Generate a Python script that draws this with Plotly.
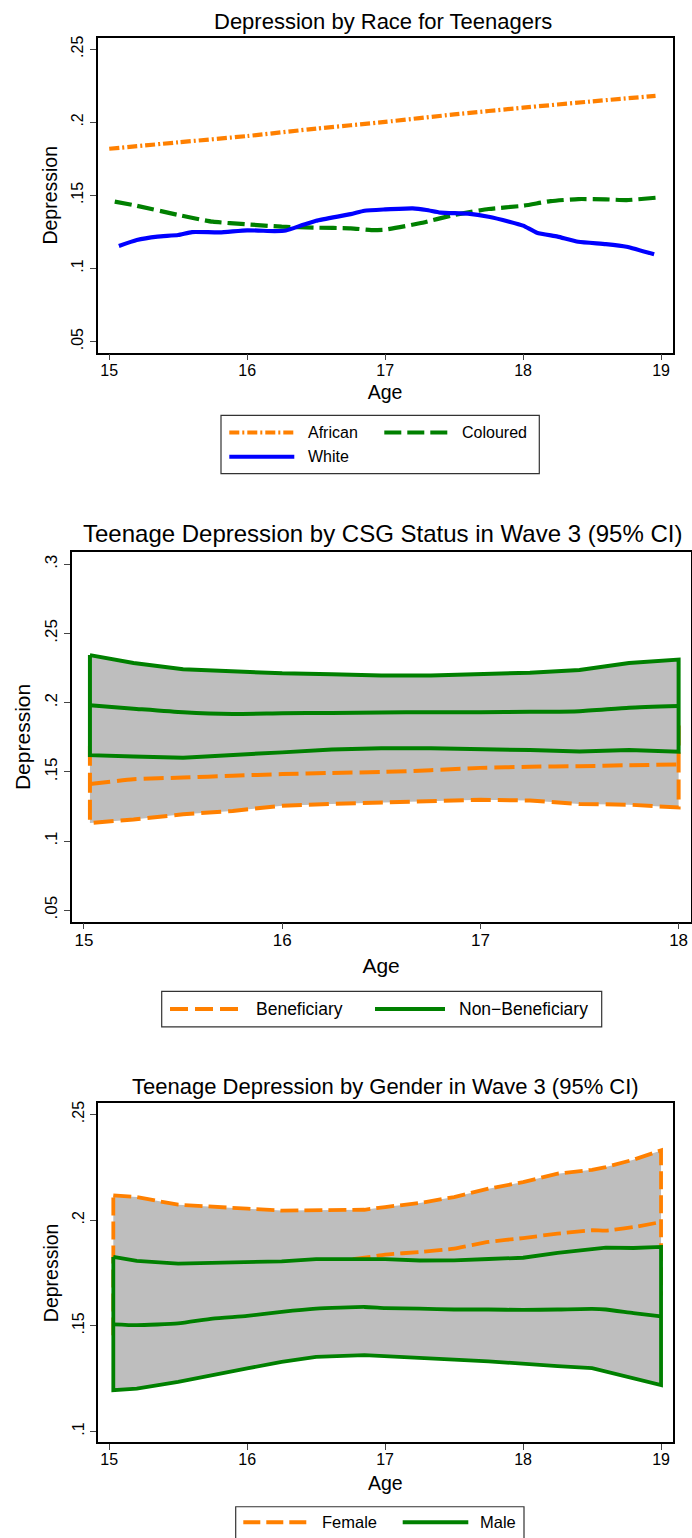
import plotly.graph_objects as go

# ---------------- data ----------------
# Panel 1: Depression by Race for Teenagers
african_age = [15.0, 15.5, 16.0, 16.5, 17.0, 17.5, 18.0, 18.5, 18.96]
african = [0.1819, 0.1863, 0.1906, 0.1957, 0.2003, 0.2054, 0.2100, 0.2143, 0.2181]

coloured_age = [15.04, 15.2, 15.5, 15.75, 16.0, 16.25, 16.5, 16.75, 16.9, 17.0, 17.25,
                17.5, 17.75, 18.0, 18.2, 18.4, 18.6, 18.75, 18.96]
coloured = [0.1457, 0.1429, 0.1366, 0.1320, 0.1302, 0.1286, 0.1279, 0.1275, 0.1263, 0.1266,
            0.1309, 0.1366, 0.1407, 0.1429, 0.1461, 0.1475, 0.1473, 0.1468, 0.1484]

white_age = [15.07, 15.2, 15.35, 15.5, 15.6, 15.8, 16.0, 16.2, 16.28, 16.4, 16.5, 16.75,
             16.85, 17.0, 17.2, 17.3, 17.4, 17.6, 17.75, 17.9, 18.0, 18.1, 18.25, 18.4,
             18.6, 18.75, 18.95]
white = [0.1154, 0.1195, 0.1218, 0.1229, 0.1249, 0.1247, 0.1261, 0.1256, 0.1260, 0.1297,
         0.1327, 0.1372, 0.1395, 0.1404, 0.1411, 0.1400, 0.1382, 0.1375, 0.1354, 0.1320,
         0.1293, 0.1245, 0.1218, 0.1183, 0.1167, 0.1149, 0.1097]

# Panel 2: Teenage Depression by CSG Status in Wave 3 (95% CI)
csg_age = [15.03, 15.25, 15.5, 15.75, 16.0, 16.25, 16.5, 16.75, 17.0, 17.25, 17.5, 17.75, 18.0]
ben_mean = [0.1412, 0.1447, 0.1459, 0.1472, 0.1484, 0.1492, 0.1499, 0.1512, 0.1529, 0.1537,
            0.1541, 0.1548, 0.1554]
ben_lower = [0.1131, 0.1156, 0.1193, 0.1218, 0.1255, 0.1268, 0.1280, 0.1290, 0.1298, 0.1293,
             0.1268, 0.1263, 0.1243]
ben_upper = [0.1693, 0.1738, 0.1725, 0.1726, 0.1713, 0.1716, 0.1718, 0.1734, 0.1760, 0.1781,
             0.1814, 0.1833, 0.1865]
nonben_mean = [0.1981, 0.1957, 0.1931, 0.1919, 0.1924, 0.1926, 0.1929, 0.1931, 0.1931, 0.1934,
               0.1939, 0.1964, 0.1976]
nonben_lower = [0.1621, 0.1611, 0.1603, 0.1621, 0.1641, 0.1661, 0.1670, 0.1670, 0.1666, 0.1658,
                0.1648, 0.1658, 0.1646]
nonben_upper = [0.2344, 0.2287, 0.2242, 0.2225, 0.2212, 0.2205, 0.2197, 0.2197, 0.2205, 0.2217,
                0.2237, 0.2287, 0.2312]

# Panel 3: Teenage Depression by Gender in Wave 3 (95% CI)
gender_age = [15.03, 15.2, 15.5, 15.75, 16.0, 16.25, 16.5, 16.85, 17.0, 17.25, 17.5, 17.75,
              18.0, 18.25, 18.5, 18.6, 18.8, 19.0]
female_upper = [0.2117, 0.2109, 0.2073, 0.2062, 0.2054, 0.2045, 0.2045, 0.2049, 0.2062, 0.2081,
                0.2109, 0.2149, 0.2180, 0.2220, 0.2238, 0.2251, 0.2286, 0.2330]
female_mean = [0.1790, 0.1782, 0.1770, 0.1768, 0.1772, 0.1780, 0.1795, 0.1822, 0.1837, 0.1849,
               0.1865, 0.1897, 0.1915, 0.1936, 0.1952, 0.1950, 0.1967, 0.1991]
female_lower = [0.1463, 0.1455, 0.1467, 0.1474, 0.1490, 0.1515, 0.1545, 0.1595, 0.1612, 0.1617,
                0.1621, 0.1645, 0.1650, 0.1652, 0.1666, 0.1649, 0.1648, 0.1652]
male_upper = [0.1826, 0.1807, 0.1794, 0.1797, 0.1799, 0.1805, 0.1815, 0.1818, 0.1815, 0.1809,
              0.1810, 0.1816, 0.1822, 0.1845, 0.1862, 0.1870, 0.1868, 0.1873]
male_mean = [0.1507, 0.1503, 0.1511, 0.1534, 0.1547, 0.1566, 0.1581, 0.1589, 0.1584, 0.1581,
             0.1577, 0.1577, 0.1575, 0.1577, 0.1580, 0.1577, 0.1560, 0.1545]
male_lower = [0.1195, 0.1203, 0.1235, 0.1266, 0.1298, 0.1329, 0.1353, 0.1361, 0.1353, 0.1348,
              0.1340, 0.1332, 0.1321, 0.1309, 0.1300, 0.1282, 0.1250, 0.1219]

titles = ["Depression by Race for Teenagers",
          "Teenage Depression by CSG Status in Wave 3 (95% CI)",
          "Teenage Depression by Gender in Wave 3 (95% CI)"]
x_ticks_1 = [15, 16, 17, 18, 19]
x_ticks_2 = [15, 16, 17, 18]
y_ticks_1 = [0.05, 0.1, 0.15, 0.2, 0.25]
y_ticks_2 = [0.05, 0.1, 0.15, 0.2, 0.25, 0.3]
y_ticks_3 = [0.1, 0.15, 0.2, 0.25]
y_tick_text = {0.05: ".05", 0.1: ".1", 0.15: ".15", 0.2: ".2", 0.25: ".25", 0.3: ".3"}

# ---------------- style ----------------
W, H = 692, 1538
FONT = "Liberation Sans"
ORANGE = "#FF8000"
GREEN = "#008000"
BLUE = "#0000FF"
GRAY = "#BEBEBE"


def fx(px):
    return px / W


def fy(py):
    return 1 - py / H


fig = go.Figure()


def band(x, lo, hi, color, dash, xa, ya, width):
    xs = list(x) + list(x)[::-1] + [x[0]]
    ys = list(hi) + list(lo)[::-1] + [hi[0]]
    fig.add_trace(go.Scatter(x=xs, y=ys, mode="lines", fill="toself", fillcolor=GRAY,
                             line=dict(color=color, width=width, dash=dash),
                             xaxis=xa, yaxis=ya, showlegend=False, hoverinfo="skip"))


def line(x, y, color, dash, xa, ya, width, name):
    fig.add_trace(go.Scatter(x=x, y=y, mode="lines", name=name,
                             line=dict(color=color, width=width, dash=dash,
                                       shape="spline", smoothing=0.5),
                             xaxis=xa, yaxis=ya, showlegend=False))


# Panel 1
line(african_age, african, ORANGE, "10px,3px,2px,3px", "x", "y", 4.2, "African")
line(coloured_age, coloured, GREEN, "17px,6px", "x", "y", 4.2, "Coloured")
line(white_age, white, BLUE, "solid", "x", "y", 4.2, "White")

# Panel 2
DASH2 = "20px,7px"
band(csg_age, ben_lower, ben_upper, ORANGE, DASH2, "x2", "y2", 4)
line(csg_age, ben_mean, ORANGE, DASH2, "x2", "y2", 4, "Beneficiary")
band(csg_age, nonben_lower, nonben_upper, GREEN, "solid", "x2", "y2", 4)
line(csg_age, nonben_mean, GREEN, "solid", "x2", "y2", 4, "Non-Beneficiary")

# Panel 3
DASH3 = "18px,6px"
band(gender_age, female_lower, female_upper, ORANGE, DASH3, "x3", "y3", 3.8)
line(gender_age, female_mean, ORANGE, DASH3, "x3", "y3", 3.8, "Female")
band(gender_age, male_lower, male_upper, GREEN, "solid", "x3", "y3", 3.8)
line(gender_age, male_mean, GREEN, "solid", "x3", "y3", 3.8, "Male")


def xaxis(domain, rng, ticks, anchor, fs, tfs, standoff):
    return dict(domain=domain, range=rng, anchor=anchor, tickvals=ticks,
                ticktext=[str(t) for t in ticks],
                showline=True, linecolor="black", linewidth=1.6, mirror=True,
                ticks="outside", ticklen=6, tickwidth=1, tickcolor="#444",
                ticklabelstandoff=-4,
                showgrid=False, zeroline=False,
                tickfont=dict(family=FONT, size=fs, color="black"),
                title=dict(text="Age", font=dict(family=FONT, size=tfs, color="black"),
                           standoff=standoff))


def yaxis(domain, rng, ticks, anchor, fs, tfs, standoff):
    return dict(domain=domain, range=rng, anchor=anchor, tickvals=ticks,
                ticktext=[y_tick_text[t] for t in ticks], tickangle=-90,
                showline=True, linecolor="black", linewidth=1.6, mirror=True,
                ticks="outside", ticklen=6, tickwidth=1, tickcolor="#444",
                showgrid=False, zeroline=False,
                tickfont=dict(family=FONT, size=fs, color="black"),
                title=dict(text="Depression", font=dict(family=FONT, size=tfs, color="black"),
                           standoff=standoff))


# plot areas in pixels: (left, right, top, bottom)
p1 = (97.5, 672.5, 36, 351)
p2 = (71.7, 690.5, 551, 920.8)
p3 = (98, 672.5, 1102.7, 1442.3)

fig.update_layout(
    width=W, height=H, margin=dict(l=0, r=0, t=0, b=0),
    paper_bgcolor="white", plot_bgcolor="white", showlegend=False,
    font=dict(family=FONT, color="black"),
    xaxis=xaxis([fx(p1[0]), fx(p1[1])], [14.915, 19.083], x_ticks_1, "y", 16, 19.5, 8),
    yaxis=yaxis([fy(p1[3]), fy(p1[2])], [0.0425, 0.2577], y_ticks_1, "x", 16, 19.5, 6),
    xaxis2=xaxis([fx(p2[0]), fx(p2[1])], [14.938, 18.06], x_ticks_2, "y2", 17, 21, 9),
    yaxis2=yaxis([fy(p2[3]), fy(p2[2])], [0.0418, 0.3087], y_ticks_2, "x2", 17, 21, 6),
    xaxis3=xaxis([fx(p3[0]), fx(p3[1])], [14.919, 19.083], x_ticks_1, "y3", 16, 19.5, 9),
    yaxis3=yaxis([fy(p3[3]), fy(p3[2])], [0.0948, 0.2553], y_ticks_3, "x3", 16, 19.5, 6),
)

# panel titles
for txt, cx, cy, fs in [(titles[0], 383, 19.5, 22), (titles[1], 382, 532.4, 24),
                        (titles[2], 385, 1086.2, 22)]:
    fig.add_annotation(text=txt, x=fx(cx), y=fy(cy), xref="paper", yref="paper",
                       xanchor="center", yanchor="middle", showarrow=False,
                       font=dict(family=FONT, size=fs, color="black"))

# manual legends (boxes, samples, labels)
legends = [
    # box (l, r, t, b), items [(x0, x1, y, color, dash, label, text_x)], font size
    ((221, 539.3, 414, 472.3),
     [(229.3, 294.3, 431, ORANGE, "10px,3px,2px,3px", "African", 306),
      (384.3, 449.3, 431, GREEN, "17px,6px", "Coloured", 460),
      (229.3, 294.3, 455.3, BLUE, "solid", "White", 306)], 16),
    ((161.7, 601.7, 990.7, 1026.2),
     [(170, 240.7, 1008.3, ORANGE, "18px,7px", "Beneficiary", 254),
      (375, 445, 1008.3, GREEN, "solid", "Non\u2212Beneficiary", 457.3)], 17.5),
    ((235.7, 524, 1506.7, 1545),
     [(243.3, 309.3, 1522.3, ORANGE, "17px,6px", "Female", 320),
      (402.7, 468.3, 1522.3, GREEN, "solid", "Male", 478.3)], 16.5),
]
for (l, r, t, b), items, fs in legends:
    fig.add_shape(type="rect", xref="paper", yref="paper", x0=fx(l), x1=fx(r),
                  y0=fy(b), y1=fy(t), line=dict(color="#333", width=1.2),
                  fillcolor="rgba(0,0,0,0)")
    for x0, x1, yy, col, dash, lab, tx in items:
        fig.add_shape(type="line", xref="paper", yref="paper", x0=fx(x0), x1=fx(x1),
                      y0=fy(yy), y1=fy(yy), line=dict(color=col, width=4, dash=dash))
        fig.add_annotation(text=lab, x=fx(tx), y=fy(yy), xref="paper", yref="paper",
                           xanchor="left", yanchor="middle", showarrow=False,
                           font=dict(family=FONT, size=fs, color="black"))

fig.write_html("out.html")
